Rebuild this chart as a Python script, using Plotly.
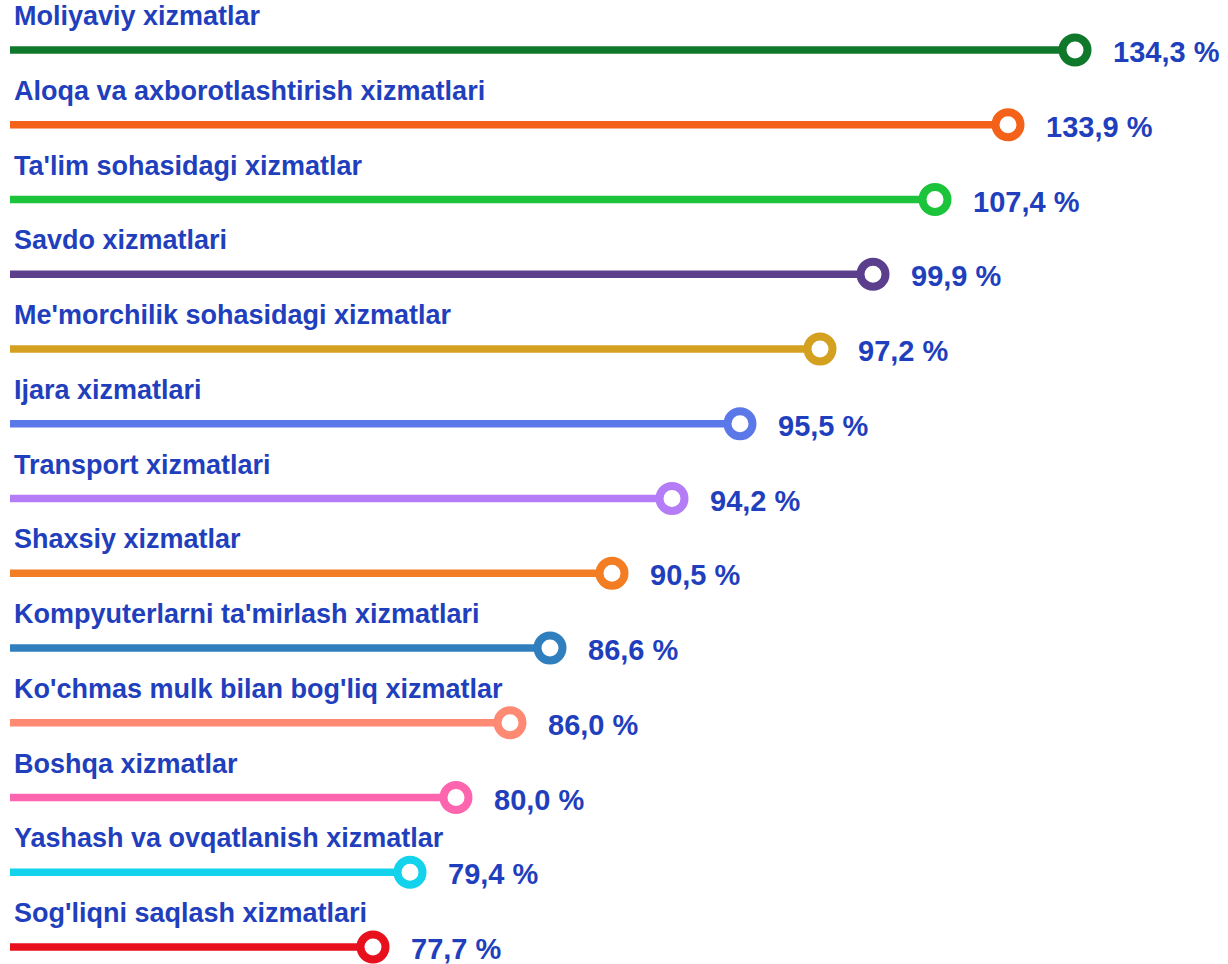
import plotly.graph_objects as go

categories = [
    "Moliyaviy xizmatlar",
    "Aloqa va axborotlashtirish xizmatlari",
    "Ta'lim sohasidagi xizmatlar",
    "Savdo xizmatlari",
    "Me'morchilik sohasidagi xizmatlar",
    "Ijara xizmatlari",
    "Transport xizmatlari",
    "Shaxsiy xizmatlar",
    "Kompyuterlarni ta'mirlash xizmatlari",
    "Ko'chmas mulk bilan bog'liq xizmatlar",
    "Boshqa xizmatlar",
    "Yashash va ovqatlanish xizmatlar",
    "Sog'liqni saqlash xizmatlari",
]
values = [134.3, 133.9, 107.4, 99.9, 97.2, 95.5, 94.2, 90.5, 86.6, 86.0, 80.0, 79.4, 77.7]
# visual lollipop lengths as drawn in the infographic (not proportional to values)
bar_length = [107.5, 100.8, 93.5, 87.3, 82.0, 74.0, 67.2, 61.2, 55.0, 51.0, 45.6, 41.0, 37.3]
colors = ["#10782a", "#f46119", "#1cc43c", "#5b3f8c", "#d4a020", "#5b78e8",
          "#b47cf6", "#f27d22", "#2f7fbe", "#ff8a74", "#fd66ae", "#12d2ec", "#e8101c"]

TEXT = "#1f3fbd"
FONT = "'Liberation Sans', Arial, sans-serif"

fig = go.Figure()
for cat, L, c in zip(categories, bar_length, colors):
    fig.add_trace(go.Scatter(x=[1.0, L], y=[cat, cat], mode="lines",
                             line=dict(color=c, width=7.5), hoverinfo="skip",
                             showlegend=False))
for cat, L, c in zip(categories, bar_length, colors):
    fig.add_trace(go.Scatter(x=[L], y=[cat], mode="markers",
                             marker=dict(size=25, color="white",
                                         line=dict(color=c, width=8)),
                             showlegend=False))

for cat, L, v in zip(categories, bar_length, values):
    fig.add_annotation(x=1.2, y=cat, text=f"<b>{cat}</b>", showarrow=False,
                       xanchor="left", yanchor="middle", yshift=34,
                       font=dict(family=FONT, size=27, color=TEXT))
    fig.add_annotation(x=L, y=cat, text=f"<b>{v:.1f}".replace(".", ",") + " %</b>",
                       showarrow=False, xanchor="left", yanchor="middle",
                       xshift=36, yshift=-2,
                       font=dict(family=FONT, size=29, color=TEXT))

fig.update_layout(
    width=1228, height=964,
    margin=dict(l=0, r=0, t=0, b=0),
    paper_bgcolor="white", plot_bgcolor="white",
    xaxis=dict(range=[0, 122.8], visible=False, fixedrange=True),
    yaxis=dict(type="category", categoryorder="array", categoryarray=categories,
               range=[12.227, -0.669], visible=False, fixedrange=True),
)
fig.write_html("out.html", config={"displayModeBar": False},
               post_script="document.body.style.margin='0';")
